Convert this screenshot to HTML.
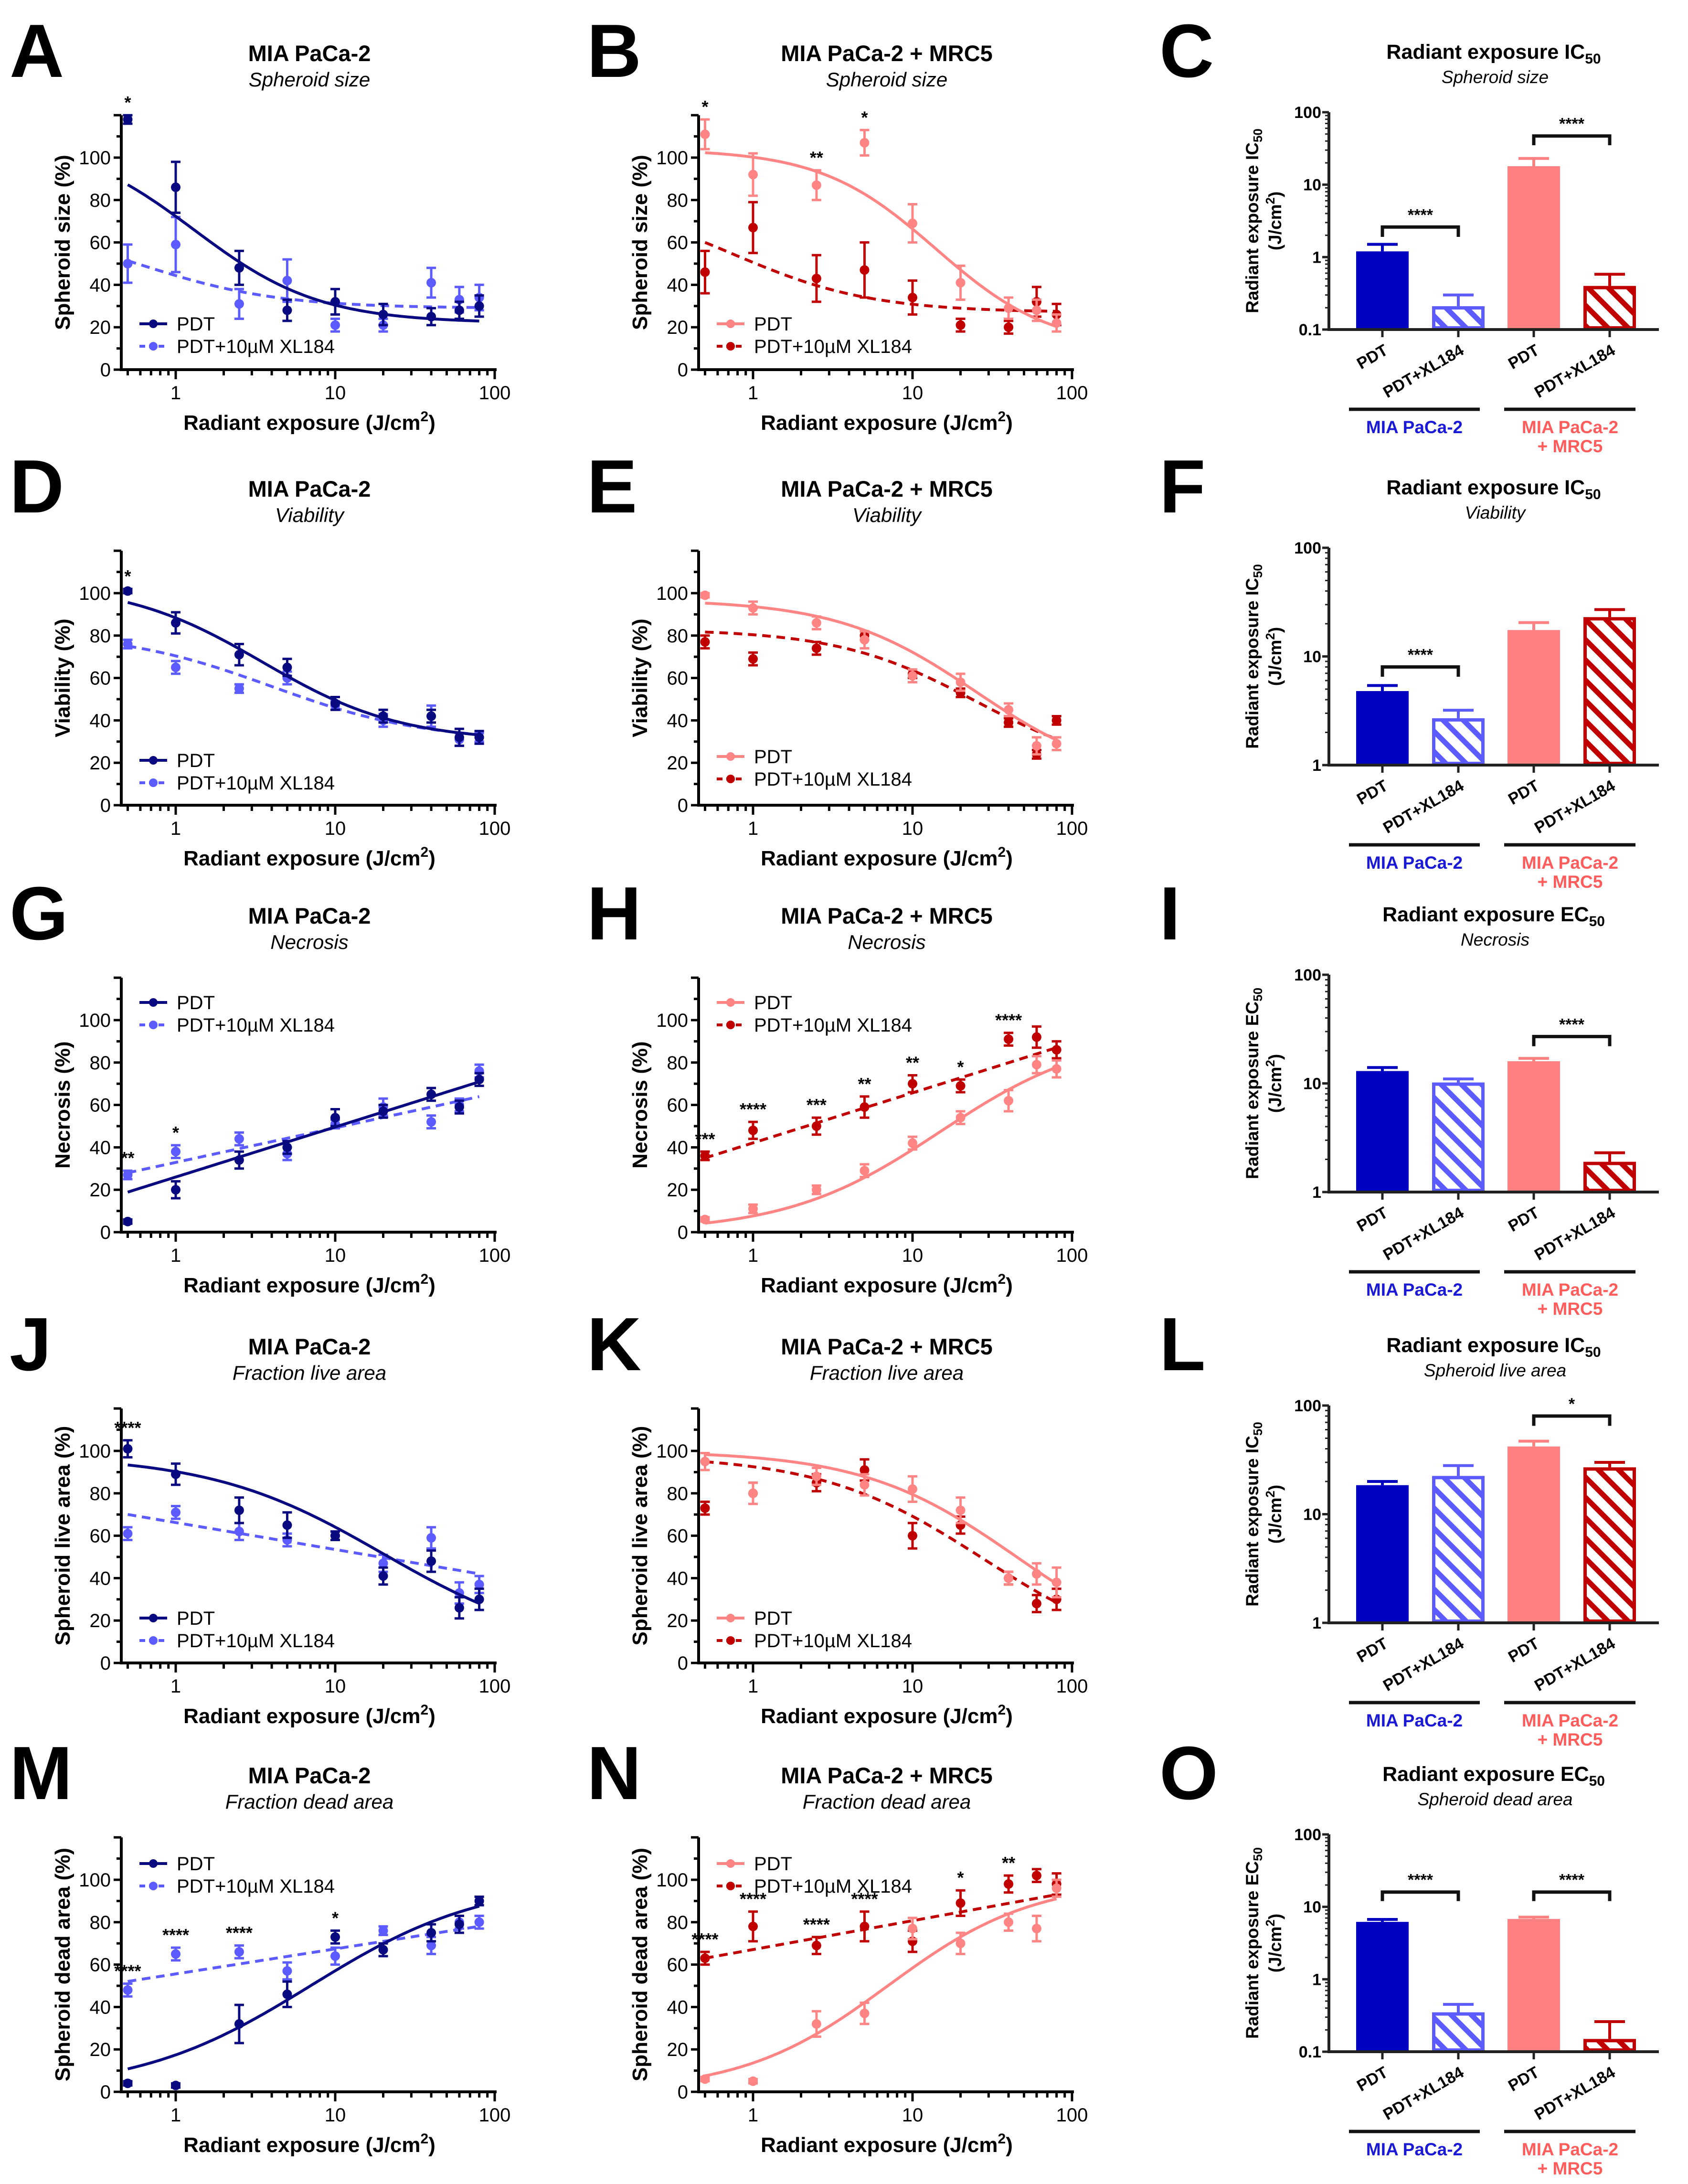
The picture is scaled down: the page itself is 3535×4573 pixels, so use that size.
<!DOCTYPE html>
<html><head><meta charset="utf-8"><title>Radiant exposure figure</title>
<style>
html,body{margin:0;padding:0;background:#fff;}
svg{display:block;font-family:"Liberation Sans",Arial,sans-serif;}
</style></head>
<body>
<svg id="fig" xmlns="http://www.w3.org/2000/svg" width="3535" height="4573" viewBox="0 0 3535 4573">
<rect x="0" y="0" width="3535" height="4573" fill="#fff"/>
<defs>
<pattern id="hatchBlue" patternUnits="userSpaceOnUse" width="30" height="30" patternTransform="rotate(-45)"><rect width="30" height="30" fill="#fff"/><rect x="0" y="0" width="11" height="30" fill="#5b5bff"/></pattern>
<pattern id="hatchRed" patternUnits="userSpaceOnUse" width="30" height="30" patternTransform="rotate(-45)"><rect width="30" height="30" fill="#fff"/><rect x="0" y="0" width="11" height="30" fill="#c00000"/></pattern>
</defs>
</svg>
<script>
// ---------- shared dose axis ----------
const doses = [0.5, 1, 2.5, 5, 10, 20, 40, 60, 80];
const xTickLabels = ['1', '10', '100'];
const yTickLabels = ['0', '20', '40', '60', '80', '100'];

// ---------- Panel A ----------
const aPdt = [118, 86, 48, 28, 32, 26, 25, 28, 30];
const aPdtErr = [2, 12, 8, 5, 6, 5, 4, 4, 5];
const aXl = [50, 59, 31, 42, 21, 21, 41, 33, 34];
const aXlErr = [9, 13, 7, 10, 3, 3, 7, 6, 6];
const aPdtFit = ['dec', 22, 110, 1.3, 1.1];
const aXlFit = ['dec', 29, 70, 0.6, 1];
const aSig = [[0, '*']];
// ---------- Panel B ----------
const bPdt = [111, 92, 87, 107, 69, 41, 29, 28, 22];
const bPdtErr = [7, 10, 7, 6, 9, 8, 5, 5, 4];
const bXl = [46, 67, 43, 47, 34, 21, 20, 32, 26];
const bXlErr = [10, 12, 11, 13, 8, 3, 3, 7, 5];
const bPdtFit = ['dec', 10, 104, 14, 1.2];
const bXlFit = ['dec', 27, 82, 0.75, 1];
const bSig = [[0, '*'], [2, '**'], [3, '*']];
// ---------- Panel D ----------
const dPdt = [101, 86, 71, 65, 48, 42, 42, 32, 32];
const dPdtErr = [1, 5, 5, 4, 3, 3, 3, 4, 3];
const dXl = [76, 65, 55, 60, 47, 40, 42, 31, 32];
const dXlErr = [2, 3, 2, 3, 2, 3, 5, 3, 2];
const dPdtFit = ['dec', 30, 105, 3.5, 1];
const dXlFit = ['dec', 30, 82, 4, 0.9];
const dSig = [[0, '*']];
// ---------- Panel E ----------
const ePdt = [99, 93, 86, 78, 61, 58, 45, 28, 29];
const ePdtErr = [1, 3, 3, 4, 3, 4, 3, 4, 3];
const eXl = [77, 69, 74, 80, 62, 53, 39, 24, 40];
const eXlErr = [3, 3, 3, 2, 2, 2, 2, 2, 2];
const ePdtFit = ['dec', 10, 97, 25, 1];
const eXlFit = ['dec', 15, 83, 25, 1];
const eSig = [];
// ---------- Panel G ----------
const gPdt = [5, 20, 34, 40, 54, 57, 65, 59, 72];
const gPdtErr = [1, 4, 4, 3, 4, 3, 3, 3, 3];
const gXl = [27, 38, 44, 37, 51, 59, 52, 60, 76];
const gXlErr = [2, 3, 3, 3, 2, 4, 3, 3, 3];
const gPdtFit = ['lin', 26, 23.6];
const gXlFit = ['lin', 32.9, 16.3];
const gSig = [[0, '**'], [1, '*']];
// ---------- Panel H ----------
const hPdt = [6, 11, 20, 29, 42, 54, 62, 79, 77];
const hPdtErr = [1, 2, 2, 3, 3, 3, 5, 4, 4];
const hXl = [36, 48, 50, 59, 70, 69, 91, 92, 86];
const hXlErr = [2, 4, 4, 5, 4, 3, 3, 5, 4];
const hPdtFit = ['inc', 0, 95, 15, 0.9];
const hXlFit = ['lin', 42.1, 23.6];
const hSig = [[0, '***'], [1, '****'], [2, '***'], [3, '**'], [4, '**'], [5, '*'], [6, '****']];
// ---------- Panel J ----------
const jPdt = [101, 89, 72, 65, 60, 41, 48, 26, 30];
const jPdtErr = [4, 5, 6, 6, 2, 4, 5, 5, 5];
const jXl = [61, 71, 62, 58, 60, 47, 59, 33, 37];
const jXlErr = [3, 3, 4, 3, 2, 4, 5, 5, 4];
const jPdtFit = ['dec', 5, 98, 20, 0.8];
const jXlFit = ['lin', 66.2, -12.7];
const jSig = [[0, '****']];
// ---------- Panel K ----------
const kPdt = [95, 80, 88, 84, 82, 72, 40, 42, 38];
const kPdtErr = [4, 5, 4, 5, 6, 6, 3, 5, 7];
const kXl = [73, 80, 85, 91, 60, 65, 40, 28, 30];
const kXlErr = [3, 5, 4, 5, 6, 4, 3, 4, 5];
const kPdtFit = ['dec', 0, 100, 45, 0.9];
const kXlFit = ['dec', 0, 98, 28, 0.85];
const kSig = [];
// ---------- Panel M ----------
const mPdt = [4, 3, 32, 46, 73, 67, 75, 79, 90];
const mPdtErr = [1, 1, 9, 6, 3, 3, 4, 4, 2];
const mXl = [48, 65, 66, 57, 64, 76, 69, 80, 80];
const mXlErr = [3, 3, 3, 4, 4, 2, 4, 3, 3];
const mPdtFit = ['inc', 0, 100, 7, 0.8];
const mXlFit = ['lin', 55.6, 11.8];
const mSig = [[0, '****'], [1, '****'], [2, '****'], [4, '*']];
// ---------- Panel N ----------
const nPdt = [6, 5, 32, 37, 77, 70, 80, 77, 96];
const nPdtErr = [1, 1, 6, 5, 5, 5, 4, 6, 4];
const nXl = [63, 78, 69, 78, 71, 89, 98, 102, 98];
const nXlErr = [3, 7, 4, 7, 5, 6, 4, 3, 5];
const nPdtFit = ['inc', 0, 100, 7, 0.95];
const nXlFit = ['lin', 67.1, 13.6];
const nSig = [[0, '****'], [1, '****'], [2, '****'], [3, '****'], [5, '*'], [6, '**']];

// ---------- Bar panels ----------
const barCategories = ['PDT', 'PDT+XL184', 'PDT', 'PDT+XL184'];
const groupLabels = ['MIA PaCa-2', 'MIA PaCa-2', '+ MRC5'];
const cVals = [1.2, 0.21, 18, 0.4];
const cErrs = [0.3, 0.09, 5, 0.18];
const fVals = [4.8, 2.7, 17.5, 23];
const fErrs = [0.6, 0.5, 3, 4];
const iVals = [13, 10.2, 16, 1.9];
const iErrs = [1, 0.8, 1, 0.4];
const lVals = [18.5, 22.5, 42, 27];
const lErrs = [1.5, 5.5, 5, 3];
const oVals = [6.2, 0.35, 6.8, 0.15];
const oErrs = [0.5, 0.1, 0.4, 0.11];
const cTicks = ['0.1', '1', '10', '100'];
const fTicks = ['1', '10', '100'];

const NS = 'http://www.w3.org/2000/svg';
const svg = document.getElementById('fig');
function mk(tag, attrs, parent) {
  const e = document.createElementNS(NS, tag);
  for (const k in attrs) e.setAttribute(k, attrs[k]);
  (parent || svg).appendChild(e);
  return e;
}
function txt(str, attrs, parent) { const e = mk('text', attrs, parent); e.textContent = str; return e; }

function fitY(f, x) {
  if (f[0] === 'lin') return f[1] + f[2] * Math.log10(x);
  if (f[0] === 'dec') return f[1] + (f[2] - f[1]) / (1 + Math.pow(x / f[3], f[4]));
  return f[1] + (f[2] - f[1]) / (1 + Math.pow(f[3] / x, f[4]));
}

const rowDy = [0, 912, 1806, 2708, 3606];
const colDx = [0, 1209];

function drawLinePanel(p) {
  const g = mk('g', { transform: 'translate(' + p.dx + ',' + p.dy + ')' });
  
  
  const X0 = 254, Y0 = 774, XR = 1040;
  const xs = v => 368 + 334 * Math.log10(v);
  const ys = v => Y0 - 4.44 * v;
  const L = txt(p.letter, { x: 20, y: 161, 'font-size': 158, 'font-weight': 'bold' }, g);
  
  
  const t = txt(p.title, { x: 648, y: 128, 'font-size': 47, 'font-weight': 'bold', 'text-anchor': 'middle' }, g);
  
  
  const st = txt(p.sub, { x: 648, y: 181, 'font-size': 42, 'font-style': 'italic', 'text-anchor': 'middle' }, g);
  
  
  // axes
  const ax = mk('path', { d: 'M' + X0 + ' ' + ys(120) + 'V' + Y0 + 'H' + XR, stroke: '#000', 'stroke-width': 6, fill: 'none' }, g);
  
  
  for (let v = 0; v <= 120; v += 10) {
    const major = v % 20 === 0;
    const tk = mk('line', { x1: X0 - (major ? 16 : 10), x2: X0, y1: ys(v), y2: ys(v), stroke: '#000', 'stroke-width': 5 }, g);
    
    
  }
  yTickLabels.forEach((lab, i) => {
    const tl = txt(lab, { x: X0 - 22, y: ys(i * 20) + 14, 'font-size': 40, 'text-anchor': 'end' }, g);
    
    
  });
  const minors = [0.5, 0.6, 0.7, 0.8, 0.9, 1, 2, 3, 4, 5, 6, 7, 8, 9, 10, 20, 30, 40, 50, 60, 70, 80, 90, 100];
  minors.forEach(v => {
    const major = (v === 1 || v === 10 || v === 100);
    const tk = mk('line', { x1: xs(v), x2: xs(v), y1: Y0, y2: Y0 + (major ? 20 : 12), stroke: '#000', 'stroke-width': 5 }, g);
    
    
  });
  xTickLabels.forEach(lab => {
    const tl = txt(lab, { x: xs(+lab), y: Y0 + 62, 'font-size': 40, 'text-anchor': 'middle' }, g);
    
    
  });
  const xt = txt('Radiant exposure (J/cm', { x: 648, y: 900, 'font-size': 44, 'font-weight': 'bold', 'text-anchor': 'middle' }, g);
  const sup = mk('tspan', { dy: -18, 'font-size': 30 }, xt); sup.textContent = '2';
  const cl = mk('tspan', { dy: 18 }, xt); cl.textContent = ')';
  
  
  const yt = txt(p.ytitle, { x: 0, y: 0, 'font-size': 44, 'font-weight': 'bold', 'text-anchor': 'middle', transform: 'translate(146,' + ys(60) + ') rotate(-90)' }, g);
  
  

  const series = [
    { v: p.pdt, e: p.pdtErr, f: p.pdtFit, c: p.c1, dash: null, name: 'pdt' },
    { v: p.xl, e: p.xlErr, f: p.xlFit, c: p.c2, dash: '18 12', name: 'pdt-xl184' }
  ];
  series.slice().reverse().forEach(s => {
    let d = '';
    for (let i = 0; i <= 120; i++) {
      const x = Math.pow(10, Math.log10(0.5) + i / 120 * (Math.log10(80) - Math.log10(0.5)));
      d += (i ? 'L' : 'M') + xs(x).toFixed(1) + ' ' + ys(fitY(s.f, x)).toFixed(1);
    }
    const cu = mk('path', { d: d, stroke: s.c, 'stroke-width': 6, fill: 'none' }, g);
    if (s.dash) cu.setAttribute('stroke-dasharray', s.dash);
    
    
    s.v.forEach((val, i) => {
      const x = xs(doses[i]);
      const eb = mk('path', { d: 'M' + x + ' ' + ys(val - s.e[i]) + 'V' + ys(val + s.e[i]) + 'M' + (x - 10) + ' ' + ys(val - s.e[i]) + 'h20M' + (x - 10) + ' ' + ys(val + s.e[i]) + 'h20', stroke: s.c, 'stroke-width': 5, fill: 'none' }, g);
      
      
      const pt = mk('circle', { cx: x, cy: ys(val), r: 10, fill: s.c }, g);
      
      
    });
  });
  // significance
  p.sig.forEach(sg => {
    const i = sg[0];
    const top = Math.max(p.pdt[i] + p.pdtErr[i], p.xl[i] + p.xlErr[i]);
    const s = txt(sg[1], { x: xs(doses[i]), y: ys(top) - 14, 'font-size': 36, 'font-weight': 'bold', 'text-anchor': 'middle' }, g);
    
    
  });
  // legend
  const ly = p.legendY;
  [[series[0], 'PDT', ly], [series[1], 'PDT+10\u00B5M XL184', ly + 47]].forEach(it => {
    const s = it[0];
    const ln = mk('line', { x1: 292, x2: 350, y1: it[2], y2: it[2], stroke: s.c, 'stroke-width': 6 }, g);
    if (s.dash) ln.setAttribute('stroke-dasharray', '12 8');
    
    
    const mc = mk('circle', { cx: 321, cy: it[2], r: 9, fill: s.c }, g);
    
    
    const lt = txt(it[1], { x: 370, y: it[2] + 14, 'font-size': 40 }, g);
    
    
  });
}

const NAVY = '#0a0a80', LBLUE = '#5b5bff', PINK = '#ff8585', DRED = '#c00000';
const linePanels = [
  { letter: 'A', col: 0, row: 0, title: 'MIA PaCa-2', sub: 'Spheroid size', ytitle: 'Spheroid size (%)', pdt: aPdt, pdtErr: aPdtErr, xl: aXl, xlErr: aXlErr, pdtFit: aPdtFit, xlFit: aXlFit, sig: aSig, legendY: 678 },
  { letter: 'B', col: 1, row: 0, title: 'MIA PaCa-2 + MRC5', sub: 'Spheroid size', ytitle: 'Spheroid size (%)', pdt: bPdt, pdtErr: bPdtErr, xl: bXl, xlErr: bXlErr, pdtFit: bPdtFit, xlFit: bXlFit, sig: bSig, legendY: 678 },
  { letter: 'D', col: 0, row: 1, title: 'MIA PaCa-2', sub: 'Viability', ytitle: 'Viability (%)', pdt: dPdt, pdtErr: dPdtErr, xl: dXl, xlErr: dXlErr, pdtFit: dPdtFit, xlFit: dXlFit, sig: dSig, legendY: 680 },
  { letter: 'E', col: 1, row: 1, title: 'MIA PaCa-2 + MRC5', sub: 'Viability', ytitle: 'Viability (%)', pdt: ePdt, pdtErr: ePdtErr, xl: eXl, xlErr: eXlErr, pdtFit: ePdtFit, xlFit: eXlFit, sig: eSig, legendY: 672 },
  { letter: 'G', col: 0, row: 2, title: 'MIA PaCa-2', sub: 'Necrosis', ytitle: 'Necrosis (%)', pdt: gPdt, pdtErr: gPdtErr, xl: gXl, xlErr: gXlErr, pdtFit: gPdtFit, xlFit: gXlFit, sig: gSig, legendY: 293 },
  { letter: 'H', col: 1, row: 2, title: 'MIA PaCa-2 + MRC5', sub: 'Necrosis', ytitle: 'Necrosis (%)', pdt: hPdt, pdtErr: hPdtErr, xl: hXl, xlErr: hXlErr, pdtFit: hPdtFit, xlFit: hXlFit, sig: hSig, legendY: 293 },
  { letter: 'J', col: 0, row: 3, title: 'MIA PaCa-2', sub: 'Fraction live area', ytitle: 'Spheroid live area (%)', pdt: jPdt, pdtErr: jPdtErr, xl: jXl, xlErr: jXlErr, pdtFit: jPdtFit, xlFit: jXlFit, sig: jSig, legendY: 680 },
  { letter: 'K', col: 1, row: 3, title: 'MIA PaCa-2 + MRC5', sub: 'Fraction live area', ytitle: 'Spheroid live area (%)', pdt: kPdt, pdtErr: kPdtErr, xl: kXl, xlErr: kXlErr, pdtFit: kPdtFit, xlFit: kXlFit, sig: kSig, legendY: 680 },
  { letter: 'M', col: 0, row: 4, title: 'MIA PaCa-2', sub: 'Fraction dead area', ytitle: 'Spheroid dead area (%)', pdt: mPdt, pdtErr: mPdtErr, xl: mXl, xlErr: mXlErr, pdtFit: mPdtFit, xlFit: mXlFit, sig: mSig, legendY: 296 },
  { letter: 'N', col: 1, row: 4, title: 'MIA PaCa-2 + MRC5', sub: 'Fraction dead area', ytitle: 'Spheroid dead area (%)', pdt: nPdt, pdtErr: nPdtErr, xl: nXl, xlErr: nXlErr, pdtFit: nPdtFit, xlFit: nXlFit, sig: nSig, legendY: 296 }
];
linePanels.forEach(p => {
  p.dx = colDx[p.col]; p.dy = rowDy[p.row];
  p.c1 = p.col === 0 ? NAVY : PINK;
  p.c2 = p.col === 0 ? LBLUE : DRED;
  drawLinePanel(p);
});

function drawBarPanel(p) {
  const g = mk('g', { transform: 'translate(0,' + p.dy + ')' });
  
  
  const X0 = 2783, XR = 3474, YT = 235, YB = 690;
  const lo = p.lo, hi = 2;
  const ys = v => YB - (Math.log10(v) - lo) / (hi - lo) * (YB - YT);
  const centers = [2895, 3054, 3212, 3371];
  const bw = 110;
  const L = txt(p.letter, { x: 2428, y: 161, 'font-size': 158, 'font-weight': 'bold' }, g);
  
  
  const t = txt('Radiant exposure ' + p.kind, { x: 3128, y: 123, 'font-size': 43, 'font-weight': 'bold', 'text-anchor': 'middle' }, g);
  const ts = mk('tspan', { 'font-size': 30, dy: 10 }, t); ts.textContent = '50';
  
  
  const st = txt(p.sub, { x: 3131, y: 174, 'font-size': 37, 'font-style': 'italic', 'text-anchor': 'middle' }, g);
  
  
  // y title (two lines)
  const yc = (YT + YB) / 2;
  const y1 = txt('Radiant exposure ' + p.kind, { x: 0, y: 0, 'font-size': 37, 'font-weight': 'bold', 'text-anchor': 'middle', transform: 'translate(2635,' + yc + ') rotate(-90)' }, g);
  const y1s = mk('tspan', { 'font-size': 26, dy: 8 }, y1); y1s.textContent = '50';
  
  
  const y2 = txt('(J/cm', { x: 0, y: 0, 'font-size': 37, 'font-weight': 'bold', 'text-anchor': 'middle', transform: 'translate(2683,' + yc + ') rotate(-90)' }, g);
  const y2s = mk('tspan', { 'font-size': 26, dy: -14 }, y2); y2s.textContent = '2';
  const y2c = mk('tspan', { dy: 14 }, y2); y2c.textContent = ')';
  
  
  // bars
  p.vals.forEach((v, i) => {
    const x = centers[i] - bw / 2;
    const top = ys(v);
    const c = i < 2 ? (i === 0 ? '#0000c0' : LBLUE) : (i === 2 ? '#ff8080' : DRED);
    const eb = mk('path', { d: 'M' + centers[i] + ' ' + top + 'V' + ys(v + p.errs[i]) + 'M' + (centers[i] - 32) + ' ' + ys(v + p.errs[i]) + 'h64', stroke: c, 'stroke-width': 6, fill: 'none' }, g);
    
    
    let r;
    if (i % 2 === 0) r = mk('rect', { x: x, y: top, width: bw, height: YB - top, fill: c }, g);
    else r = mk('rect', { x: x + 3.5, y: top + 3.5, width: bw - 7, height: YB - top - 7, fill: i === 1 ? 'url(#hatchBlue)' : 'url(#hatchRed)', stroke: c, 'stroke-width': 7 }, g);
    
    
  });
  // axes
  const ax = mk('path', { d: 'M' + X0 + ' ' + YT + 'V' + YB + 'H' + XR, stroke: '#222', 'stroke-width': 6, fill: 'none' }, g);
  
  
  for (let e = lo; e <= hi; e++) {
    const mt = mk('line', { x1: X0 - 14, x2: X0, y1: ys(Math.pow(10, e)), y2: ys(Math.pow(10, e)), stroke: '#222', 'stroke-width': 5 }, g);
    
    
    if (e < hi) for (let m = 2; m <= 9; m++) {
      const nt = mk('line', { x1: X0 - 8, x2: X0, y1: ys(m * Math.pow(10, e)), y2: ys(m * Math.pow(10, e)), stroke: '#222', 'stroke-width': 3 }, g);
      
      
    }
  }
  p.ticks.forEach(lab => {
    const tl = txt(lab, { x: X0 - 16, y: ys(+lab) + 12, 'font-size': 34, 'font-weight': 'bold', 'text-anchor': 'end' }, g);
    
    
  });
  centers.forEach((cx, i) => {
    const xt = mk('line', { x1: cx, x2: cx, y1: YB, y2: YB + 16, stroke: '#222', 'stroke-width': 5 }, g);
    
    
    const cl = txt(barCategories[i], { x: 0, y: 0, 'font-size': 34, 'font-weight': 'bold', 'text-anchor': 'end', transform: 'translate(' + (cx + 14) + ',' + (YB + 50) + ') rotate(-30)' }, g);
    
    
  });
  [[2825, 3099], [3150, 3425]].forEach((gl, k) => {
    const ln = mk('line', { x1: gl[0], x2: gl[1], y1: 857, y2: 857, stroke: '#111', 'stroke-width': 7 }, g);
    
    
  });
  const g1 = txt(groupLabels[0], { x: 2962, y: 907, 'font-size': 37, 'font-weight': 'bold', 'text-anchor': 'middle', fill: '#1a1ad6' }, g);
  
  
  const g2 = txt(groupLabels[1], { x: 3288, y: 907, 'font-size': 37, 'font-weight': 'bold', 'text-anchor': 'middle', fill: '#ff5c5c' }, g);
  
  
  const g3 = txt(groupLabels[2], { x: 3288, y: 947, 'font-size': 37, 'font-weight': 'bold', 'text-anchor': 'middle', fill: '#ff5c5c' }, g);
  
  
  p.brackets.forEach(b => {
    const xa = centers[b[0]], xb = centers[b[1]];
    const yt = ys(b[2]), ye = ys(b[3]);
    const br = mk('path', { d: 'M' + xa + ' ' + ye + 'V' + yt + 'H' + xb + 'V' + ye, stroke: '#111', 'stroke-width': 7, fill: 'none' }, g);
    
    
    const s = txt(b[4], { x: (xa + xb) / 2, y: yt - 14, 'font-size': 34, 'font-weight': 'bold', 'text-anchor': 'middle' }, g);
    
    
  });
}

const barPanels = [
  { letter: 'C', row: 0, kind: 'IC', sub: 'Spheroid size', lo: -1, ticks: cTicks, vals: cVals, errs: cErrs, brackets: [[0, 1, 2.6, 1.9, '****'], [2, 3, 47, 35, '****']] },
  { letter: 'F', row: 1, kind: 'IC', sub: 'Viability', lo: 0, ticks: fTicks, vals: fVals, errs: fErrs, brackets: [[0, 1, 8, 6.5, '****']] },
  { letter: 'I', row: 2, kind: 'EC', sub: 'Necrosis', lo: 0, ticks: fTicks, vals: iVals, errs: iErrs, brackets: [[2, 3, 27, 22, '****']] },
  { letter: 'L', row: 3, kind: 'IC', sub: 'Spheroid live area', lo: 0, ticks: fTicks, vals: lVals, errs: lErrs, brackets: [[2, 3, 80, 65, '*']] },
  { letter: 'O', row: 4, kind: 'EC', sub: 'Spheroid dead area', lo: -1, ticks: cTicks, vals: oVals, errs: oErrs, brackets: [[0, 1, 16, 12, '****'], [2, 3, 16, 12, '****']] }
];
barPanels.forEach(p => { p.dy = rowDy[p.row]; drawBarPanel(p); });
</script>
</body></html>
